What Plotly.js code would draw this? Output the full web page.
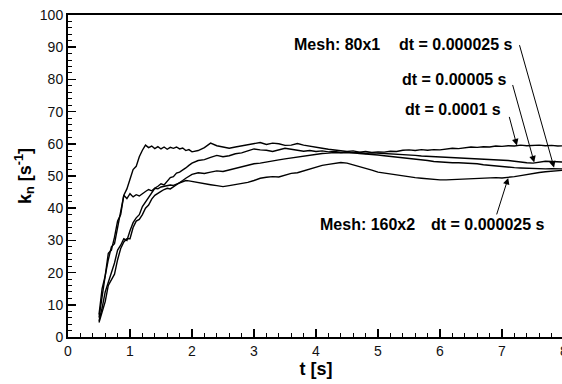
<!DOCTYPE html>
<html>
<head>
<meta charset="utf-8">
<script src="https://cdn.plot.ly/plotly-3.0.1.min.js"></script>
<style>
html,body{margin:0;padding:0;overflow:hidden;background:#fff;}
#chart{width:570px;height:384px;}
</style>
</head>
<body>
<div id="chart"></div>
<script>
// time samples [s]
var time = [0.5,0.55,0.6,0.65,0.7,0.75,0.8,0.85,0.9,0.95,1.0,1.05,1.1,1.15,1.2,1.25,1.3,1.35,1.4,1.45,1.5,1.55,1.6,1.65,1.7,1.75,1.8,1.85,1.9,1.95,2.0,
  2.1,2.2,2.3,2.4,2.5,2.6,2.7,2.8,2.9,3.0,3.1,3.2,3.3,3.4,3.5,3.6,3.7,3.8,3.9,4.0,4.1,4.2,4.3,4.4,4.5,4.6,4.7,4.8,4.9,5.0,
  5.1,5.2,5.3,5.4,5.5,5.6,5.7,5.8,5.9,6.0,6.1,6.2,6.3,6.4,6.5,6.6,6.7,6.8,6.9,7.0,7.1,7.2,7.3,7.4,7.5,7.6,7.7,7.8,7.9,8.0];

// Mesh 80x1, dt = 0.0001 s
var kn_dt0001 = [7,15,19,26,27,31,36,38,44,46,49,52,53,56,58,59.6,58.8,59.3,58.5,59.1,58.4,59.0,58.3,58.9,58.6,59.0,58.4,58.7,57.9,58.2,57.5,
  57.9,58.8,60.2,59.4,58.9,58.6,59.0,59.3,59.6,60.1,60.4,59.8,60.2,60.0,59.5,59.6,60.1,59.6,59.2,58.8,58.6,58.3,58.0,57.8,57.6,57.8,57.4,57.6,57.3,57.5,
  57.4,57.7,57.6,58.0,58.1,57.9,58.2,58.0,58.2,58.1,58.3,58.6,58.5,58.8,59.0,58.9,59.1,59.0,59.3,59.2,59.4,59.3,59.6,59.4,59.5,59.6,59.4,59.5,59.3,59.4];

// Mesh 80x1, dt = 0.00005 s
var kn_dt00005 = [5,9,14,17,20,23,27,28.5,30.5,30,33,35.5,37,38,40.5,42,43.5,45,46.2,46.8,47.6,47.2,48.4,49.5,49.8,50.9,51.2,51.8,52.5,53.3,54,
  54.8,55.1,55.8,56.4,56.0,56.3,56.9,57.2,57.8,58.4,58.1,58.0,57.6,58.2,58.6,58.3,58.0,57.7,57.9,57.6,57.8,57.5,57.6,57.3,57.4,57.2,57.3,57.0,57.2,57.1,
  56.9,57.0,56.7,56.6,56.5,56.4,56.2,56.1,56.0,55.9,55.8,55.9,55.7,55.6,55.6,55.5,55.4,55.3,55.1,55.0,54.8,54.6,54.3,54.1,54.0,54.3,54.6,54.5,54.3,54.3];

// Mesh 80x1, dt = 0.000025 s
var kn_dt000025 = [4.5,8,11,16,18,19.5,24,27.5,29.5,30.5,30.5,34,36,36.5,38,40,41,42.8,44,44.5,45.2,45.8,46.2,46.0,46.6,47.2,47.8,48.6,49.3,50.0,50.5,
  51.0,50.8,51.2,51.6,51.4,51.9,52.4,52.8,53.3,53.8,54.0,54.4,54.8,55.0,55.3,55.6,56.0,56.3,56.6,56.8,57.0,57.1,57.3,57.2,57.3,57.2,57.0,56.9,56.7,56.5,
  56.3,56.1,55.9,55.8,55.6,55.3,55.0,54.8,54.5,54.3,54.2,54.1,54.1,54.0,54.0,53.8,53.5,53.3,53.0,52.8,52.7,52.6,52.5,52.4,52.3,52.2,52.2,52.3,52.2,52.2];

// Mesh 160x2, dt = 0.000025 s
var kn_fine = [6,13,19,24,28,29,34,39,44,43,44.5,43.5,44.2,43.8,44.6,45.2,45.8,45.4,46.2,46.0,46.6,46.8,47.0,47.2,47.1,47.5,48.0,48.4,48.6,48.5,48.3,
  48.0,47.6,47.3,47.0,46.7,47.0,47.3,47.6,48.0,48.6,49.3,49.6,49.8,49.7,50.2,50.8,51.0,51.6,52.2,52.8,53.3,53.6,54.0,54.2,54.0,53.5,53.0,52.4,51.8,51.2,
  50.9,50.5,50.2,49.9,49.7,49.5,49.3,49.1,48.9,48.8,48.8,48.9,49.0,49.2,49.3,49.4,49.3,49.4,49.5,49.4,49.5,49.8,50.1,50.5,50.8,51.1,51.3,51.5,51.7,51.8];

var seriesNames = ["Mesh: 80x1 dt = 0.0001 s","Mesh: 80x1 dt = 0.00005 s","Mesh: 80x1 dt = 0.000025 s","Mesh: 160x2 dt = 0.000025 s"];
var seriesValues = [kn_dt0001, kn_dt00005, kn_dt000025, kn_fine];

// label texts
var labelTexts = ["Mesh: 80x1","dt = 0.000025 s","dt = 0.00005 s","dt = 0.0001 s","Mesh: 160x2","dt = 0.000025 s"];

var traces = seriesValues.map(function(v,i){
  return {x: time, y: v, type: 'scatter', mode: 'lines', name: seriesNames[i],
          line: {color: '#000', width: 1.4}, hoverinfo: 'skip'};
});

var lblFont = {family: 'Liberation Sans, Arial, sans-serif', size: 16, color: '#000', weight: 'bold'};
function label(t, x, y){
  return {text: '<b>'+t+'</b>', x: x, y: y, xref: 'x', yref: 'y', xanchor: 'left', yanchor: 'middle', showarrow: false, font: lblFont};
}
function arrow(x, y, ax, ay){
  return {text: '', x: x, y: y, xref: 'x', yref: 'y', ax: ax, ay: ay, showarrow: true,
          arrowhead: 2, arrowsize: 1.3, arrowwidth: 1, arrowcolor: '#000', standoff: 0};
}

var annotations = [
  label(labelTexts[0], 3.61, 90.7),
  label(labelTexts[1], 5.30, 90.7),
  label(labelTexts[2], 5.35, 80.1),
  label(labelTexts[3], 5.41, 70.5),
  label(labelTexts[4], 4.03, 34.8),
  label(labelTexts[5], 5.82, 34.8),
  arrow(7.84, 52.6, -35, -124),
  arrow(7.52, 54.2, -22, -79),
  arrow(7.24, 59.5, -8, -30),
  arrow(7.10, 49.4, -12, 38)
];

var tickFont = {family: 'Liberation Sans, Arial, sans-serif', size: 14, color: '#111'};
var titleFont = {family: 'Liberation Sans, Arial, sans-serif', size: 18, color: '#000', weight: 'bold'};

var layout = {
  width: 570, height: 384,
  margin: {l: 68, r: 6, t: 15, b: 47},
  paper_bgcolor: '#fff', plot_bgcolor: '#fff',
  showlegend: false,
  xaxis: {
    range: [0, 8], dtick: 1, tick0: 0, showgrid: false, zeroline: false,
    showline: true, linecolor: '#000', linewidth: 2, mirror: true,
    ticks: 'inside', ticklen: 8, tickwidth: 1.5, tickcolor: '#000',
    minor: {dtick: 0.2, ticklen: 4, tickwidth: 1, tickcolor: '#000', ticks: 'inside', showgrid: false},
    tickfont: tickFont,
    title: {text: '<b>t [s]</b>', font: titleFont, standoff: 2}
  },
  yaxis: {
    range: [0, 100], dtick: 10, tick0: 0, showgrid: false, zeroline: false,
    showline: true, linecolor: '#000', linewidth: 2, mirror: true,
    ticks: 'inside', ticklen: 8, tickwidth: 1.5, tickcolor: '#000',
    minor: {dtick: 2, ticklen: 4, tickwidth: 1, tickcolor: '#000', ticks: 'inside', showgrid: false},
    tickfont: tickFont,
    title: {text: '<b>k<sub>n</sub> [s<sup>-1</sup>]</b>', font: titleFont, standoff: 4}
  },
  annotations: annotations
};

Plotly.newPlot('chart', traces, layout, {staticPlot: true, displayModeBar: false});
</script>
</body>
</html>
